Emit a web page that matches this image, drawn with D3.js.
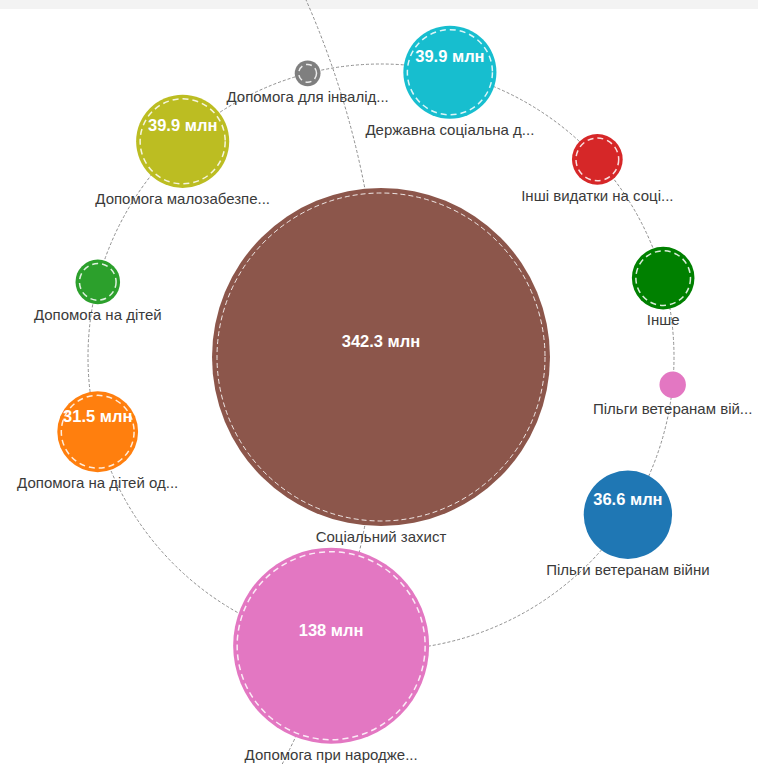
<!DOCTYPE html>
<html>
<head>
<meta charset="utf-8">
<script src="https://cdn.jsdelivr.net/npm/d3@7"></script>
<style>
	body { margin: 0; background: #fff; }
	text { font-family: "Liberation Sans", Arial, sans-serif; }
</style>
</head>
<body>
<script>
// Global variables
var width = 758,
	height = 764,
	svg,
	rScale;

// parent node
var parentName = "Соціальний захист";
var parentValue = 342.3;
var parentColor = "#8c564b";

// children, clockwise starting from the top
var childNames = [
	"Державна соціальна д...",
	"Інші видатки на соці...",
	"Інше",
	"Пільги ветеранам вій...",
	"Пільги ветеранам війни",
	"Допомога при народже...",
	"Допомога на дітей од...",
	"Допомога на дітей",
	"Допомога малозабезпе...",
	"Допомога для інвалід..."
];
var childValues = [39.9, 14.5, 20.6, 4.9, 36.6, 138, 31.5, 11.7, 39.9, 4.7];
var childColors = ["#17becf", "#d62728", "#008000", "#e377c2", "#1f77b4",
	"#e377c2", "#ff7f0e", "#2ca02c", "#bcbd22", "#7f7f7f"];
// nodes that have children of their own get the dashed inner ring
var childHasKids = [true, true, true, false, false, true, true, true, true, true];

var unit = " млн";

function init() {
	// layout settings
	var cx = 381, cy = 357;
	var orbit = 293;         // ring the children sit on
	var outerOrbit = 888;    // ring of the parent's own level
	var startAngle = 13.6;   // degrees, clockwise from top

	svg = d3.select("body")
		.append("svg")
		.attr("width", width)
		.attr("height", height);

	// grey strip at the top of the page
	svg.append("rect")
		.attr("width", width)
		.attr("height", 9)
		.attr("fill", "#f3f3f3");

	rScale = d3.scalePow().exponent(0.6)
		.domain([0, parentValue])
		.range([0, 169]);

	// place children on the orbit: angular gap ~ sum of neighbour radii
	var radii = childValues.map(function(v) { return rScale(v); });
	var total = 2 * d3.sum(radii);
	var nodes = [];
	var angle = startAngle;
	childNames.forEach(function(name, i) {
		if (i > 0) angle += (radii[i - 1] + radii[i]) / total * 360;
		var a = angle * Math.PI / 180;
		nodes.push({
			name: name,
			value: childValues[i],
			color: childColors[i],
			kids: childHasKids[i],
			r: radii[i],
			x: cx + orbit * Math.sin(a),
			y: cy - orbit * Math.cos(a)
		});
	});

	// orbits
	svg.append("circle")
		.attr("cx", cx - outerOrbit)
		.attr("cy", cy)
		.attr("r", outerOrbit)
		.attr("fill", "none")
		.attr("stroke", "#8f8f8f")
		.attr("stroke-width", 1)
		.attr("stroke-dasharray", "3,2");

	svg.append("circle")
		.attr("cx", cx)
		.attr("cy", cy)
		.attr("r", orbit)
		.attr("fill", "none")
		.attr("stroke", "#8f8f8f")
		.attr("stroke-width", 1)
		.attr("stroke-dasharray", "3,2");

	var all = [{
		name: parentName,
		value: parentValue,
		color: parentColor,
		kids: true,
		r: rScale(parentValue),
		x: cx,
		y: cy,
		parent: true
	}].concat(nodes);

	var g = svg.selectAll(".node")
		.data(all)
		.enter().append("g")
		.attr("class", "node")
		.attr("transform", function(d) { return "translate(" + d.x + "," + d.y + ")"; });

	g.append("circle")
		.attr("r", function(d) { return d.r; })
		.attr("fill", function(d) { return d.color; });

	g.filter(function(d) { return d.kids; })
		.append("circle")
		.attr("r", function(d) { return d.parent ? d.r - 5 : d.r - 4; })
		.attr("fill", "none")
		.attr("stroke", "#fff")
		.attr("stroke-opacity", 0.85)
		.attr("stroke-width", function(d) { return d.parent ? 1 : 1.5; })
		.attr("stroke-dasharray", function(d) { return d.parent ? "5,3" : "6,4"; });

	// values only on the bigger bubbles
	g.filter(function(d) { return d.r > 35; })
		.append("text")
		.attr("y", -16)
		.attr("dy", "0.35em")
		.attr("text-anchor", "middle")
		.attr("fill", "#fff")
		.style("font-size", "16.5px")
		.style("font-weight", "bold")
		.text(function(d) { return d.value + unit; });

	g.append("text")
		.attr("y", function(d) { return d.r + 16; })
		.attr("text-anchor", "middle")
		.attr("fill", "#3a3a3a")
		.style("font-size", "15px")
		.text(function(d) { return d.name; });
}

window.onload = init();
</script>
</body>
</html>
